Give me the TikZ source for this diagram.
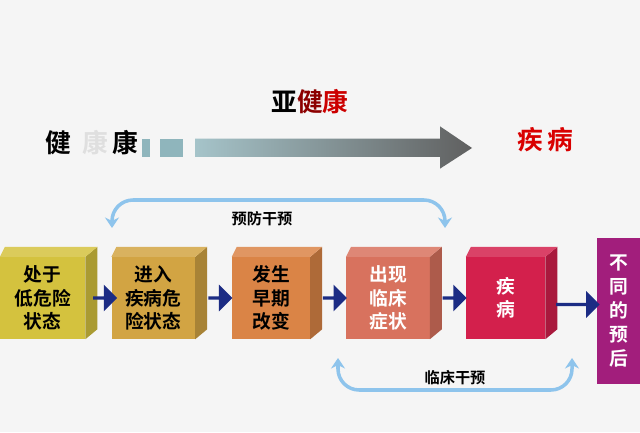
\documentclass[tikz,border=0pt]{standalone}
\usepackage{fontspec}
\newfontfamily\cjk{Noto Sans CJK SC}[BoldFont={Noto Sans CJK SC Bold}]
\usetikzlibrary{arrows.meta,positioning,calc,shapes.arrows}
\definecolor{cA}{HTML}{D4C23E}
\definecolor{cB}{HTML}{D2A443}
\definecolor{cC}{HTML}{DA8446}
\definecolor{cD}{HTML}{D8725E}
\definecolor{cE}{HTML}{D3204C}
\definecolor{cF}{HTML}{A21E7C}
\definecolor{navy}{HTML}{1C2C84}
\definecolor{sky}{HTML}{8EC4EC}
\definecolor{steel}{HTML}{8FB5BC}
\tikzset{
  stage/.style={minimum width=2.5cm, minimum height=2.46cm, inner sep=0pt,
    font=\cjk\bfseries\fontsize{16}{20}\selectfont, align=center},
  flow/.style={single arrow, fill=navy, minimum height=0.72cm,
    minimum width=0.8cm, single arrow head extend=0.05cm, inner sep=0pt,
    single arrow head indent=0pt},
  loop/.style={sky, line width=3pt, {Stealth[length=9pt,width=12pt]}-{Stealth[length=9pt,width=12pt]}, rounded corners=18pt}
}
\newcommand\sides[2]{%
  \fill[#2!80!black] (#1.north east) -- ++(0.36,0.3) -- ($(#1.south east)+(0.36,0.3)$) -- (#1.south east) -- cycle;
  \fill[#2!85!white] (#1.north west) -- ++(0.15,0.3) -- ($(#1.north east)+(0.36,0.3)$) -- (#1.north east) -- cycle;}
\begin{document}
\begin{tikzpicture}
\useasboundingbox[fill=gray!8] (0,0) rectangle (19.2,12.96);

% top line
\node[font=\cjk\bfseries\fontsize{22}{24}\selectfont] (h1) at (1.74,8.67) {健};
\node[font=\cjk\bfseries\fontsize{22}{24}\selectfont, text=gray!25] (h2) at (2.85,8.67) {康};
\node[font=\cjk\bfseries\fontsize{22}{24}\selectfont] (h3) at (3.75,8.67) {康};
\fill[steel] (4.25,8.25) rectangle (4.5,8.8);
\fill[steel] (4.8,8.25) rectangle (5.5,8.8);
\shade[left color=steel!80!white, right color=gray!75!black]
  (5.85,8.25) -- (13.2,8.25) -- (13.2,7.9) -- (14.16,8.52) -- (13.2,9.17) -- (13.2,8.8) -- (5.85,8.8) -- cycle;
\node[font=\cjk\bfseries\fontsize{22}{24}\selectfont] (sub) at (9.3,9.9)
  {亚\textcolor{red!55!black}{健}\textcolor{red!80!black}{康}};
\node[font=\cjk\bfseries\fontsize{22}{24}\selectfont, text=red!85!black] (ill) at (16.35,8.76) {疾\,病};

% stages
\node[stage, fill=cA, minimum width=2.55cm] (s1) at (1.28,4.02) {处于\\低危险\\状态};
\node[stage, fill=cB] (s2) at (4.6,4.02) {进入\\疾病危\\险状态};
\node[stage, fill=cC, minimum width=2.34cm] (s3) at (8.13,4.02) {发生\\早期\\改变};
\node[stage, fill=cD, text=white] (s4) at (11.64,4.02) {出现\\临床\\症状};
\node[stage, fill=cE, text=white, minimum width=2.37cm] (s5) at (15.17,4.02) {疾\\病};
\node[stage, fill=cF, text=white, minimum width=1.3cm, minimum height=4.4cm,
  font=\cjk\bfseries\fontsize{16}{20.5}\selectfont] (s6) at (18.56,3.63) {不\\同\\的\\预\\后};
\sides{s1}{cA}\sides{s2}{cB}\sides{s3}{cC}\sides{s4}{cD}\sides{s5}{cE}

% flow arrows
\foreach \a/\b in {s1/s2,s2/s3,s3/s4,s4/s5}
  \node[flow] at ($(\a.east)!0.5!(\b.west)+(0.18,0)$) {};
\node[flow, minimum height=1.3cm] at ($(s5.east)!0.5!(s6.west)+(0.18,0)$) {};

% interventions
\coordinate (pa) at (3.36,6.12);
\coordinate (pb) at (13.35,6.12);
\draw[loop] (pa) -- (3.36,6.96) -- (13.35,6.96) -- (pb);
\node[font=\cjk\bfseries\fontsize{13}{15}\selectfont] (pre) at (7.86,6.39) {预防干预};
\coordinate (ca) at (10.14,2.22);
\coordinate (cb) at (17.16,2.22);
\draw[loop] (ca) -- (10.14,1.26) -- (17.16,1.26) -- (cb);
\node[font=\cjk\bfseries\fontsize{13}{15}\selectfont] (cli) at (13.65,1.62) {临床干预};
\end{tikzpicture}
\end{document}
